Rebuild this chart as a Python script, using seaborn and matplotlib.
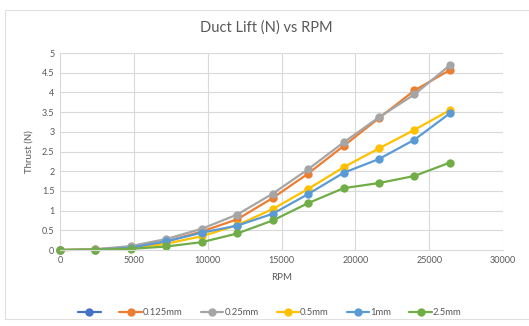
import numpy as np
import pandas as pd
import matplotlib
matplotlib.use("Agg")
import matplotlib.pyplot as plt
from matplotlib.lines import Line2D
import seaborn as sns

rpm = [0, 2400, 4800, 7200, 9600, 12000, 14400, 16800, 19200, 21600, 24000, 26400]
thrust_0125 = [0, 0.02, 0.07, 0.22, 0.47, 0.78, 1.32, 1.94, 2.64, 3.35, 4.05, 4.57]
thrust_025 = [0, 0.02, 0.10, 0.28, 0.54, 0.90, 1.43, 2.05, 2.73, 3.37, 3.95, 4.69]
thrust_05 = [0, 0.01, 0.05, 0.16, 0.35, 0.63, 1.04, 1.55, 2.10, 2.58, 3.05, 3.55]
thrust_1 = [0, 0.01, 0.06, 0.22, 0.44, 0.62, 0.92, 1.42, 1.96, 2.31, 2.80, 3.47]
thrust_25 = [0, 0.01, 0.03, 0.09, 0.20, 0.42, 0.75, 1.19, 1.57, 1.70, 1.88, 2.22]

series_names = ["0.125mm", "0.25mm", "0.5mm", "1mm", "2.5mm"]
series_values = [thrust_0125, thrust_025, thrust_05, thrust_1, thrust_25]
palette = ["#ED7D31", "#A5A5A5", "#FFC000", "#5B9BD5", "#70AD47"]
blank_color = "#4472C4"

x_ticks = [0, 5000, 10000, 15000, 20000, 25000, 30000]
y_ticks = [0, 0.5, 1, 1.5, 2, 2.5, 3, 3.5, 4, 4.5, 5]

df = pd.concat(
    [pd.DataFrame({"RPM": rpm, "Thrust": v, "Series": n}) for n, v in zip(series_names, series_values)],
    ignore_index=True,
)

sns.set_theme(style="white")
plt.rcParams["font.family"] = ["Lato", "DejaVu Sans"]
text_color = "#595959"
grid_color = "#D9D9D9"
msize = 6

fig = plt.figure(figsize=(5.29, 3.26), dpi=100)
fig.patch.set_facecolor("white")
ax = fig.add_axes([0.1134, 0.233, 0.8376, 0.6044])

sns.lineplot(
    data=df, x="RPM", y="Thrust", hue="Series", hue_order=series_names,
    palette=palette, marker="o", markersize=msize, markeredgewidth=0,
    linewidth=1.6, legend=False, ax=ax, sort=False,
)

ax.set_xlim(0, 30000)
ax.set_ylim(0, 5)
ax.set_xticks(x_ticks)
ax.set_yticks(y_ticks)
ax.set_xticklabels([str(t) for t in x_ticks])
ax.set_yticklabels([f"{t:g}" for t in y_ticks])
ax.grid(True, color=grid_color, linewidth=0.8)
ax.set_axisbelow(True)
for side in ["top", "right", "left"]:
    ax.spines[side].set_visible(False)
ax.spines["bottom"].set_color(grid_color)
ax.spines["bottom"].set_linewidth(0.8)
ax.tick_params(axis="both", length=0, labelsize=6.5, labelcolor=text_color, pad=4)
for line in ax.lines:
    line.set_clip_on(False)

ax.set_xlabel("RPM", fontsize=7, color=text_color, labelpad=6)
ax.set_ylabel("Thrust (N)", fontsize=7, color=text_color, labelpad=6)
fig.text(0.503, 0.915, "Duct Lift (N) vs RPM", ha="center", va="center",
         fontsize=10.5, color=text_color)

handles = [Line2D([], [], color=blank_color, marker="o", markersize=msize, markeredgewidth=0, linewidth=1.6)]
labels = [""]
for n, c in zip(series_names, palette):
    handles.append(Line2D([], [], color=c, marker="o", markersize=msize, markeredgewidth=0, linewidth=1.6))
    labels.append(n)
fig.legend(handles, labels, loc="center", bbox_to_anchor=(0.51, 0.04), ncol=6, frameon=False,
           fontsize=6.8, labelcolor=text_color, handlelength=2.4, handletextpad=0.1,
           columnspacing=1.9)

# chart area border
border = plt.Rectangle((0.01, 0.02), 0.995, 0.95, transform=fig.transFigure,
                       fill=False, edgecolor="#E0E0E0", linewidth=0.8)
fig.add_artist(border)

fig.savefig("out.png", dpi=100)
